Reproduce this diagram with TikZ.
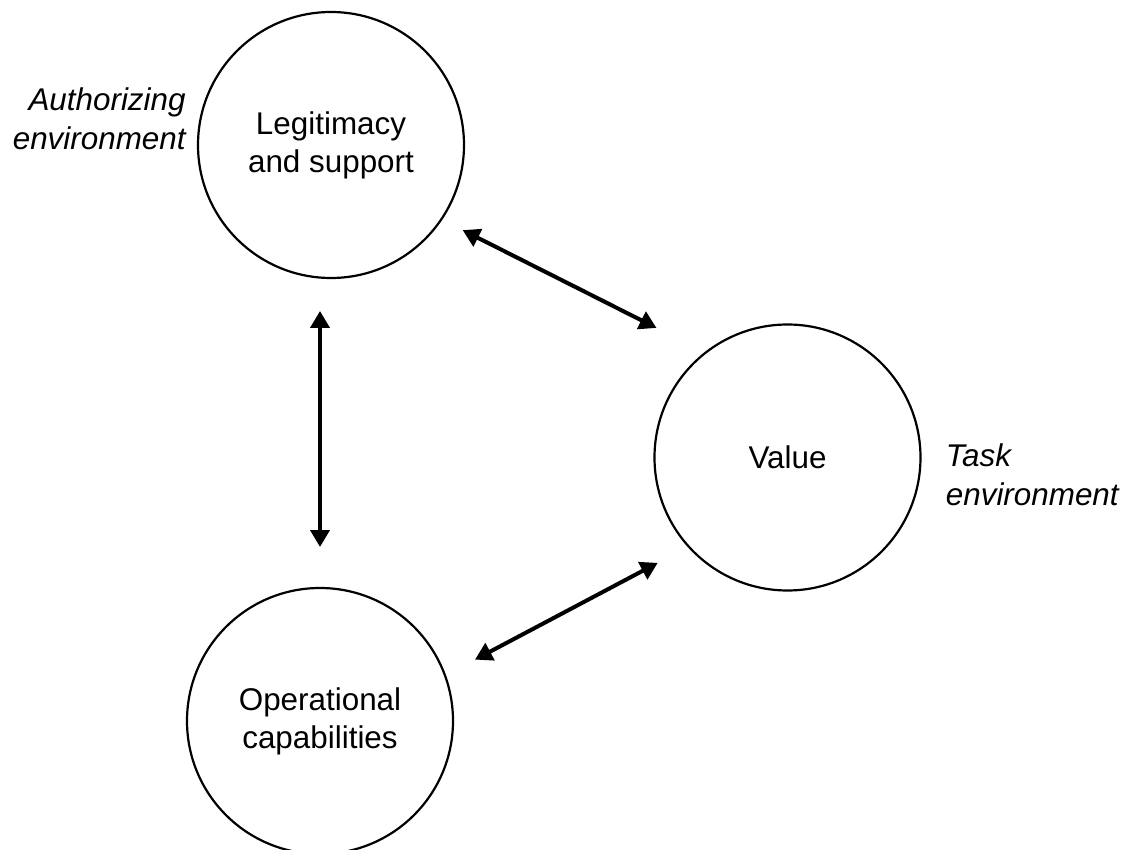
\documentclass[tikz,border=0pt]{standalone}
\usepackage{fontspec}
\setmainfont{Liberation Sans}
\usetikzlibrary{positioning,arrows.meta}

\begin{document}
\begin{tikzpicture}[x=0.5pt,y=-0.5pt,
  font=\fontsize{15.7}{19}\selectfont,
  disc/.style={draw, circle, line width=1.1pt, minimum size=133pt, inner sep=0pt,
    outer sep=0pt, align=center},
  note/.style={font=\fontsize{15.7}{19.5}\selectfont\itshape, inner sep=0pt},
  twoway/.style={line width=2pt, {Triangle[length=8.5pt,width=9.5pt]}-{Triangle[length=8.5pt,width=9.5pt]}}]
\useasboundingbox (0,0) rectangle (1131,850);

\node[disc] (legit) at (331,145) {Legitimacy\\and support};
\node[disc] (value) at (787.5,457.5) {Value};
\node[disc] (ops) at (320,721) {Operational\\capabilities};

\node[note, left=6pt of legit.west, yshift=13pt, align=right] (authz) {Authorizing\\environment};
\node[note, right=12.5pt of value.east, yshift=-8.5pt, align=left] (task) {Task\\environment};

\draw[twoway, shorten <=12pt, shorten >=27.5pt] (legit.-34) -- (value.128);
\draw[twoway, shorten <=16.5pt, shorten >=20.5pt] (ops.north |- legit.south) -- (ops.north);
\draw[twoway, shorten <=17pt, shorten >=17.5pt] (ops.20) -- (value.222);
\end{tikzpicture}
\end{document}
